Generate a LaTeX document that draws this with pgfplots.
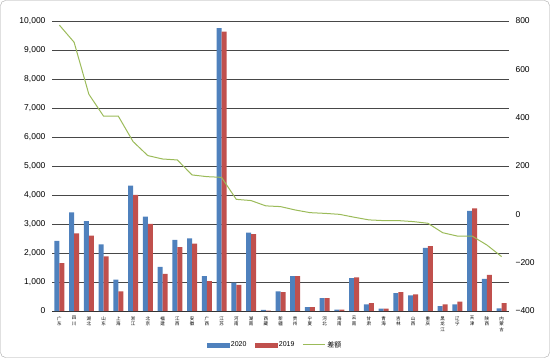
\documentclass[border=0pt]{standalone}
\usepackage{pgfplots}
\pgfplotsset{compat=1.18}
\usepackage{fontspec}
\setmainfont{Liberation Sans}
\newfontfamily\cjk{Noto Sans CJK SC}
\definecolor{cblue}{HTML}{4F81BD}
\definecolor{cred}{HTML}{C0504D}
\definecolor{cgreen}{HTML}{9BBB59}
\pgfplotsset{common/.style={scale only axis, width=457pt, height=290pt,
  xmin=0.5, xmax=31.5, major tick length=0pt, scaled y ticks=false,
  yticklabel style={font=\fontsize{8.5}{9}\selectfont}}}
\begin{document}
\begin{tikzpicture}
\begin{axis}[common, name=ax,
  ymin=0, ymax=10000,
  axis x line*=bottom, axis y line*=left,
  y axis line style={draw=none},
  x axis line style={black!80, line width=0.8pt},
  ytick={0,1000,...,10000},
  yticklabels={0,{1,000},{2,000},{3,000},{4,000},{5,000},{6,000},{7,000},{8,000},{9,000},{10,000}},
  yticklabel style={xshift=-3pt},
  ymajorgrids, grid style={black!72, line width=0.8pt},
  xtick={1,...,31},
  xticklabels={广\\东,四\\川,湖\\北,山\\东,上\\海,浙\\江,北\\京,福\\建,江\\西,安\\徽,广\\西,江\\苏,河\\南,湖\\南,西\\藏,新\\疆,贵\\州,宁\\夏,河\\北,海\\南,云\\南,甘\\肃,青\\海,吉\\林,山\\西,重\\庆,黑\\龙\\江,辽\\宁,天\\津,陕\\西,内\\蒙\\古},
  xticklabel style={font=\cjk\fontsize{4.5}{5.5}\selectfont, align=center, anchor=north, yshift=-2pt},
  ybar, bar width=5pt,
]
\addplot[fill=cblue, draw=none, bar shift=-2.5pt] coordinates {
(1,2420)(2,3400)(3,3100)(4,2300)(5,1080)(6,4320)(7,3250)(8,1520)(9,2450)(10,2500)
(11,1200)(12,9750)(13,980)(14,2700)(15,40)(16,680)(17,1200)(18,130)(19,440)(20,50)
(21,1130)(22,230)(23,80)(24,620)(25,540)(26,2180)(27,170)(28,230)(29,3450)(30,1110)(31,90)};
\addplot[fill=cred, draw=none, bar shift=2.5pt] coordinates {
(1,1650)(2,2680)(3,2600)(4,1880)(5,680)(6,4000)(7,3000)(8,1280)(9,2200)(10,2320)
(11,1030)(12,9630)(13,900)(14,2650)(15,15)(16,650)(17,1200)(18,130)(19,440)(20,50)
(21,1160)(22,270)(23,80)(24,650)(25,570)(26,2240)(27,230)(28,320)(29,3540)(30,1250)(31,270)};
\end{axis}
\begin{axis}[common,
  ymin=-400, ymax=800,
  axis x line=none, axis y line*=right,
  y axis line style={draw=none},
  ytick={-400,-200,0,200,400,600,800},
  yticklabels={−400,−200,0,200,400,600,800},
  yticklabel style={xshift=3pt},
  legend style={at={(0.488,-0.117)}, anchor=center, draw=none, fill=none,
    legend columns=3, font=\fontsize{7}{8}\selectfont,
    /tikz/every even column/.append style={column sep=6pt}},
  legend cell align=left,
]
\addlegendimage{legend image code/.code={\fill[cblue] (0pt,-2.2pt) rectangle (22pt,2.2pt);}}
\addlegendentry{2020}
\addlegendimage{legend image code/.code={\fill[cred] (0pt,-2.2pt) rectangle (22pt,2.2pt);}}
\addlegendentry{2019}
\addplot[cgreen, line width=1pt, mark=none,
  legend image code/.code={\draw[cgreen, line width=1pt] (0pt,0pt) -- (22pt,0pt);}] coordinates {
(1,783)(2,712)(3,497)(4,406)(5,406)(6,301)(7,243)(8,229)(9,225)(10,163)
(11,156)(12,153)(13,62)(14,57)(15,35)(16,32)(17,18)(18,7)(19,4)(20,0)
(21,-12)(22,-23)(23,-26)(24,-26)(25,-30)(26,-37)(27,-76)(28,-90)(29,-90)(30,-127)(31,-175)};
\addlegendentry{\cjk 差额}
\end{axis}
\pgfresetboundingbox
\useasboundingbox ([shift={(-52pt,-47pt)}]ax.south west) rectangle ([shift={(41pt,21pt)}]ax.north east);
\draw[black!35, rounded corners=5pt] ([shift={(-51.5pt,-46.5pt)}]ax.south west) rectangle ([shift={(40.5pt,20.5pt)}]ax.north east);
\end{tikzpicture}
\end{document}
